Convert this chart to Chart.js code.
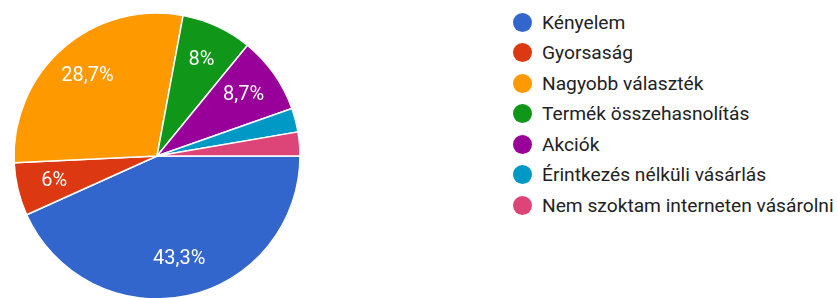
<!DOCTYPE html>
<html><head><meta charset="utf-8">
<script src="https://cdn.jsdelivr.net/npm/chart.js@4/dist/chart.umd.min.js"></script>
<style>
html,body{margin:0;padding:0;background:#fff;overflow:hidden;width:837px;height:298px;}
#wrap{position:absolute;left:0;top:0;width:314px;height:312px;}
#legend{position:absolute;left:513px;top:7px;font-family:Roboto,sans-serif;font-size:19.2px;color:#222;}
.item{display:flex;align-items:center;height:30.5px;white-space:nowrap;}
.dot{width:19px;height:19px;border-radius:50%;margin-right:10px;flex:none;}
</style></head>
<body>
<div id="wrap"><canvas id="c"></canvas></div>
<div id="legend"></div>
<script>
const categories = ["Kényelem","Gyorsaság","Nagyobb választék","Termék összehasnolítás","Akciók","Érintkezés nélküli vásárlás","Nem szoktam interneten vásárolni"];
const values = [43.3, 6, 28.7, 8, 8.7, 2.7, 2.7];
const valueLabels = ["43,3%","6%","28,7%","8%","8,7%","",""];
const colors = ["#3366cc","#dc3912","#ff9900","#109618","#990099","#0099c6","#dd4477"];

const lg = document.getElementById('legend');
categories.forEach((c,i)=>{
  const d=document.createElement('div'); d.className='item';
  const s=document.createElement('span'); s.className='dot'; s.style.background=colors[i];
  const t=document.createElement('span'); t.textContent=c;
  d.appendChild(s); d.appendChild(t); lg.appendChild(d);
});

const labelPlugin = {
  id:'sliceLabels',
  afterDatasetsDraw(chart){
    const ctx=chart.ctx;
    const meta=chart.getDatasetMeta(0);
    ctx.save();
    ctx.fillStyle='#fff';
    ctx.font='20px Roboto, sans-serif';
    ctx.textAlign='center'; ctx.textBaseline='middle';
    meta.data.forEach((arc,i)=>{
      const txt=valueLabels[i]; if(!txt) return;
      const p=arc.getProps(['x','y','startAngle','endAngle','outerRadius'],true);
      const a=(p.startAngle+p.endAngle)/2;
      const r=p.outerRadius*0.74;
      ctx.fillText(txt, p.x+Math.cos(a)*r, p.y+Math.sin(a)*r);
    });
    ctx.restore();
  }
};

new Chart(document.getElementById('c'),{
  type:'pie',
  data:{labels:categories,datasets:[{data:values,backgroundColor:colors,borderColor:'#fff',borderWidth:1.5,hoverOffset:0}]},
  options:{
    responsive:true,maintainAspectRatio:false,animation:false,
    rotation:90,radius:143,
    layout:{padding:0},
    plugins:{legend:{display:false},tooltip:{enabled:false}}
  },
  plugins:[labelPlugin]
});
</script>
</body></html>
